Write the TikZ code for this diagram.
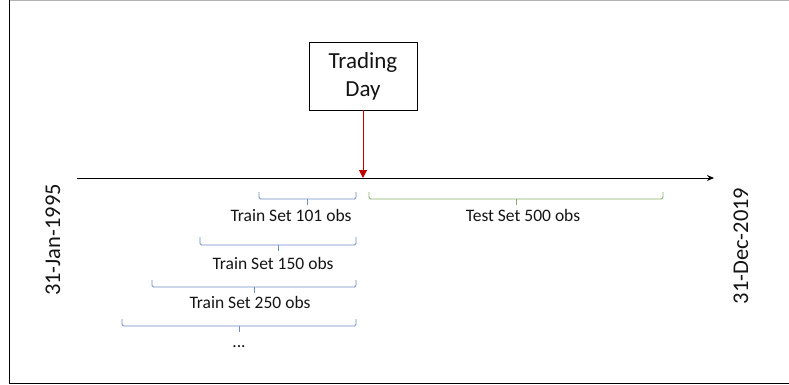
\documentclass[tikz,border=0pt]{standalone}
\usepackage{fontspec}
\setmainfont{Carlito}
\usetikzlibrary{arrows.meta}
\definecolor{brblue}{RGB}{110,140,198}
\definecolor{brgreen}{RGB}{130,175,100}
\definecolor{tdred}{RGB}{192,0,0}
\definecolor{txt}{RGB}{20,20,20}
\tikzset{
  lbl/.style={inner sep=0pt, text=txt, font=\fontsize{17.5}{19}\selectfont},
  datelbl/.style={inner sep=0pt, rotate=90, text=txt, font=\fontsize{22.5}{24}\selectfont},
  brace/.style={line width=0.9pt, rounded corners=1.5pt},
}
\newcommand{\mybrace}[5]{% x1, x2, ytop, ybot, colour
  \draw[brace,#5] (#1,#3) -- (#1,#4) -- (#2,#4) -- (#2,#3);
  \draw[brace,#5] ({(#1+#2)/2},#4) -- ({(#1+#2)/2},#4+6);
}
\begin{document}
\begin{tikzpicture}[x=1pt,y=-1pt]
\useasboundingbox (0,0) rectangle (789,385);
% frame
\draw[black!30, line width=1.2pt] (10,0.6) -- (789,0.6);
\draw[black, line width=1.2pt] (9.5,0) -- (9.5,383.5) -- (789,383.5);
% axis
\coordinate (axs) at (77,178);
\coordinate (axe) at (714,178);
\draw[line width=1pt, -{Stealth[length=7pt,width=6pt]}] (axs) -- (axe);
% trading day
\node[draw, line width=0.9pt, minimum width=108pt, minimum height=68pt, inner sep=0pt,
      align=center, text=txt, font=\fontsize{23}{28}\selectfont] (td) at (363,76) {Trading\\Day};
\coordinate (tdtip) at (363,178);
\draw[tdred, line width=1pt, -{Triangle[length=8pt,width=8pt]}] (td.south) -- (tdtip);
% braces
\mybrace{259}{356}{192}{199}{brblue}
\node[lbl] (t101) at (291,215) {Train Set 101 obs};
\mybrace{369}{663}{192}{199}{brgreen}
\node[lbl] (test) at (523,215) {Test Set 500 obs};
\mybrace{200}{356}{237}{245}{brblue}
\node[lbl] (t150) at (273,263) {Train Set 150 obs};
\mybrace{152}{356}{280}{287}{brblue}
\node[lbl] (t250) at (250,302) {Train Set 250 obs};
\mybrace{122}{356}{319}{326}{brblue}
\node[lbl] (dots) at (239,347) {...};
% dates
\node[datelbl] (d1) at (53,240) {31-Jan-1995};
\node[datelbl] (d2) at (741,246) {31-Dec-2019};
\end{tikzpicture}
\end{document}
